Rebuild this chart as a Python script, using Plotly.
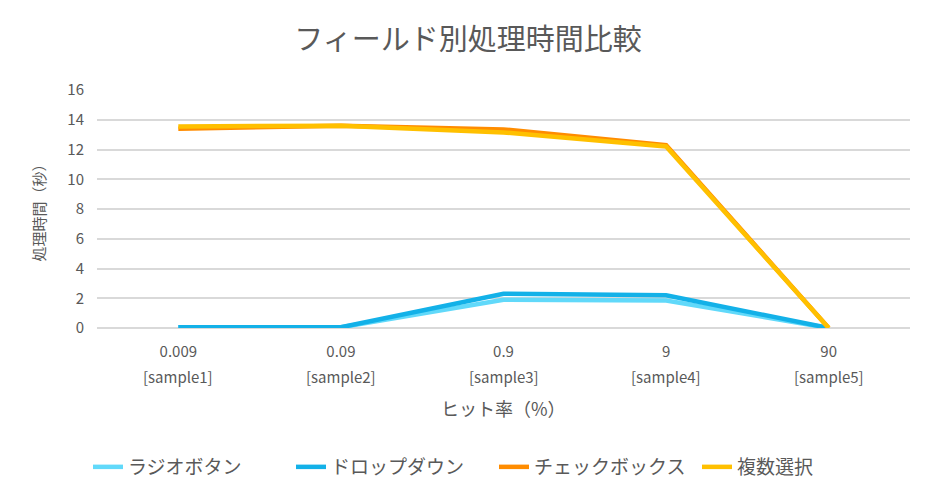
import plotly.graph_objects as go

categories = ["0.009", "0.09", "0.9", "9", "90"]
sample_labels = ["[sample1]", "[sample2]", "[sample3]", "[sample4]", "[sample5]"]
radio = [0.05, 0.05, 1.9, 1.85, 0.0]
dropdown = [0.05, 0.05, 2.3, 2.2, 0.0]
checkbox = [13.4, 13.6, 13.35, 12.3, 0.0]
multi = [13.55, 13.6, 13.15, 12.2, 0.0]

series = [
    ("ラジオボタン", radio, "#61D9FA"),
    ("ドロップダウン", dropdown, "#13B1E8"),
    ("チェックボックス", checkbox, "#FF8C00"),
    ("複数選択", multi, "#FFC000"),
]

font = "Noto Sans CJK JP, Lato, sans-serif"
GRAY = "#595959"
fig = go.Figure()
for name, vals, col in series:
    fig.add_trace(go.Scatter(x=categories, y=vals, name=name, mode="lines",
                             line=dict(color=col, width=4.5)))

# page body has an 8px margin; plot area targeted at x 97..910, y 90..328 in the screenshot
for i, lab in enumerate(sample_labels):
    fig.add_annotation(x=i, xref="x", y=-(376 - 328) / 238, yref="paper",
                       text=lab, showarrow=False, yanchor="middle",
                       font=dict(family=font, size=15, color=GRAY))

fig.add_annotation(x=0.5, xref="paper", y=-(408 - 328) / 238, yref="paper",
                   text="ヒット率（%）", showarrow=False, yanchor="middle",
                   font=dict(family=font, size=18, color=GRAY))

fig.update_layout(
    width=933, height=502,
    paper_bgcolor="white", plot_bgcolor="white",
    margin=dict(l=89, r=31, t=82, b=182, autoexpand=False),
    title=dict(text="フィールド別処理時間比較", x=(468 - 8) / 933, xanchor="center",
               y=1 - 32 / 502, yanchor="middle",
               font=dict(family=font, size=29, color=GRAY)),
    font=dict(family=font, color=GRAY, size=14),
    legend=dict(orientation="h", x=(88 - 8 - 89) / 813, xanchor="left",
                y=(320 - 459) / 238, yanchor="middle",
                entrywidth=158, entrywidthmode="pixels",
                font=dict(size=19, color=GRAY)),
    xaxis=dict(type="category", showgrid=False, showline=False, ticks="",
               tickfont=dict(size=15, color=GRAY), range=[-0.5, 4.5],
               ticklabelstandoff=13),
    yaxis=dict(range=[0, 16], dtick=2, showgrid=True, gridcolor="#D9D9D9", gridwidth=1.5,
               zeroline=True, zerolinecolor="#D9D9D9", zerolinewidth=1.5,
               title=dict(text="処理時間（秒）", font=dict(size=15, color=GRAY), standoff=18),
               tickfont=dict(size=15, color=GRAY), ticks="", ticklabelstandoff=12),
)

fig.write_html("out.html")
